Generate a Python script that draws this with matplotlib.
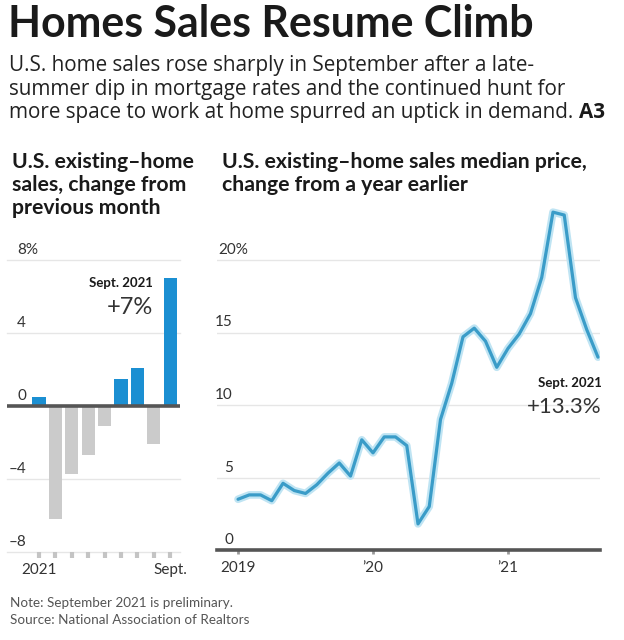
import matplotlib
matplotlib.use("Agg")
import matplotlib.pyplot as plt

# ---------------- data ----------------
bar_months = ["Jan", "Feb", "Mar", "Apr", "May", "Jun", "Jul", "Aug", "Sept."]
bar_values = [0.5, -6.2, -3.7, -2.7, -1.1, 1.5, 2.1, -2.1, 7.0]
bar_tick_labels = ["2021", "", "", "", "", "", "", "", "Sept."]
bar_yticks = [-8, -4, 0, 4, 8]

line_values = [3.5, 3.8, 3.8, 3.4, 4.6, 4.1, 3.9, 4.5, 5.3, 6.0, 5.1, 7.6,
               6.7, 7.8, 7.8, 7.2, 1.8, 3.0, 9.0, 11.5, 14.7, 15.3, 14.4, 12.6,
               13.9, 14.9, 16.3, 18.8, 23.3, 23.1, 17.4, 15.2, 13.3]
line_tick_pos = [0, 12, 24]
line_tick_labels = ["2019", "\u201920", "\u201921"]
line_yticks = [0, 5, 10, 15, 20]

title = "Homes Sales Resume Climb"
subtitle = ["U.S. home sales rose sharply in September after a late-",
            "summer dip in mortgage rates and the continued hunt for",
            "more space to work at home spurred an uptick in demand."]
left_title = ["U.S. existing\u2013home", "sales, change from", "previous month"]
right_title = ["U.S. existing\u2013home sales median price,",
               "change from a year earlier"]
notes = ["Note: September 2021 is preliminary.",
         "Source: National Association of Realtors"]

# ---------------- style ----------------
W, H = 624, 640
FONT = ["Lato", "DejaVu Sans"]
SUBFONT = ["Open Sans", "DejaVu Sans"]
plt.rcParams["font.family"] = FONT
DARK = "#1a1a1a"
TXT = "#333333"
GRID = "#e6e6e6"
BLUE = "#1b8fd2"
GRAY = "#cbcbcb"
LINE = "#3a9cc8"

fig = plt.figure(figsize=(W / 100, H / 100), dpi=100)
fig.patch.set_facecolor("white")
fig.canvas.draw()
renderer = fig.canvas.get_renderer()


def fx(x):
    return x / W


def fy(y):
    return 1 - y / H


def text_width(s, **kw):
    t = fig.text(0, 0, s, **kw)
    w = t.get_window_extent(renderer=renderer).width
    t.remove()
    return w


def fit_size(s, target, **kw):
    w = text_width(s, fontsize=20, **kw)
    return 20 * target / w


def ftext(x, y, s, **kw):
    fig.text(fx(x), fy(y), s, va="baseline", **kw)


# headline
ts = fit_size(title, 527, fontweight="bold", family=FONT)
ftext(8, 37, title, fontsize=ts, fontweight="bold", color=DARK)
ss = fit_size(subtitle[0], 526, family=SUBFONT)
for i, line in enumerate(subtitle):
    ftext(9, 71 + i * 23.5, line, fontsize=ss, color="#222222", family=SUBFONT)
aw = text_width(subtitle[2] + " ", fontsize=ss, family=SUBFONT)
ftext(9 + aw, 71 + 2 * 23.5, "A3", fontsize=ss, fontweight="bold",
      color=DARK, family=SUBFONT)

ls = fit_size(left_title[0], 176, fontweight="bold", family=FONT)
rs = fit_size(right_title[0], 378, fontweight="bold", family=FONT)
ps = (ls + rs) / 2
for i, line in enumerate(left_title):
    ftext(12, 168 + i * 23, line, fontsize=ps, fontweight="bold", color=DARK)
for i, line in enumerate(right_title):
    ftext(222, 168 + i * 23, line, fontsize=ps, fontweight="bold", color=DARK)

ns = fit_size(notes[1], 238, family=FONT)
for i, line in enumerate(notes):
    ftext(10, 607 + i * 16.5, line, fontsize=ns, color="#555555")

# ---------------- left bar chart ----------------
lx0, lx1, ly_top, ly_bot = 7, 180, 260, 552
axL = fig.add_axes([fx(lx0), fy(ly_bot), (lx1 - lx0) / W, (ly_bot - ly_top) / H])
xs = list(range(len(bar_values)))
cols = [BLUE if v >= 0 else GRAY for v in bar_values]
axL.bar(xs, bar_values, width=0.8, color=cols, zorder=2)
axL.set_xlim(-1.95, 8.6)
axL.set_ylim(-8, 8)
for v in bar_yticks:
    if v == 0:
        axL.axhline(0, color="#555555", lw=2.6, zorder=3)
    else:
        axL.axhline(v, color=GRID, lw=1, zorder=1, clip_on=False)
    lab = f"{v}".replace("-", "\u2013")
    if v == max(bar_yticks):
        axL.annotate(lab + "%", xy=(0, v), xycoords=axL.get_yaxis_transform(),
                     xytext=(10, 3), textcoords="offset pixels",
                     ha="left", va="bottom", fontsize=11, color=TXT)
    else:
        axL.annotate(lab, xy=(0, v), xycoords=axL.get_yaxis_transform(),
                     xytext=(19, 3), textcoords="offset pixels",
                     ha="right", va="bottom", fontsize=11, color=TXT)
axL.set_yticks([])
axL.set_xticks(xs)
axL.set_xticklabels(bar_tick_labels, fontsize=11, color=TXT)
axL.tick_params(axis="x", length=4, width=3, color="#c4c4c4", pad=4)
for s in axL.spines.values():
    s.set_visible(False)
axL.patch.set_alpha(0)
axL.annotate("Sept. 2021", xy=(xs[-1], bar_values[-1]), xytext=(-17, -9),
             textcoords="offset pixels", ha="right", va="baseline",
             fontsize=9.5, fontweight="bold", color=DARK)
axL.annotate("+7%", xy=(xs[-1], bar_values[-1]), xytext=(-17, -36),
             textcoords="offset pixels", ha="right", va="baseline",
             fontsize=17, color=TXT)

# ---------------- right line chart ----------------
rx0, rx1, ry_top, ry_bot = 217, 600, 200, 550
axR = fig.add_axes([fx(rx0), fy(ry_bot), (rx1 - rx0) / W, (ry_bot - ry_top) / H])
mx = list(range(len(line_values)))
axR.plot(mx, line_values, color="#bfe4f3", lw=5.5, solid_joinstyle="round",
         solid_capstyle="round", zorder=2)
axR.plot(mx, line_values, color=LINE, lw=2.3, solid_joinstyle="round",
         solid_capstyle="round", zorder=3)
axR.set_xlim(-1.87, 32.18)
axR.set_ylim(0, 350 / 14.5)
for v in line_yticks:
    if v == 0:
        axR.axhline(0, color="#555555", lw=2.6, zorder=4, clip_on=False)
    else:
        axR.axhline(v, color=GRID, lw=1, zorder=1)
    if v == max(line_yticks):
        axR.annotate(f"{v}%", xy=(0, v), xycoords=axR.get_yaxis_transform(),
                     xytext=(1, 3), textcoords="offset pixels",
                     ha="left", va="bottom", fontsize=11, color=TXT)
    else:
        axR.annotate(str(v), xy=(0, v), xycoords=axR.get_yaxis_transform(),
                     xytext=(16, 3), textcoords="offset pixels",
                     ha="right", va="bottom", fontsize=11, color=TXT)
axR.set_yticks([])
axR.set_xticks(line_tick_pos)
axR.set_xticklabels(line_tick_labels, fontsize=11, color=TXT)
axR.tick_params(axis="x", length=3, width=2, color="#999999", pad=5)
for s in axR.spines.values():
    s.set_visible(False)
axR.patch.set_alpha(0)
axR.annotate("Sept. 2021", xy=(mx[-1], line_values[-1]), xytext=(4, -30),
             textcoords="offset pixels", ha="right", va="baseline",
             fontsize=9.5, fontweight="bold", color=DARK)
axR.annotate("+13.3%", xy=(mx[-1], line_values[-1]), xytext=(4, -56),
             textcoords="offset pixels", ha="right", va="baseline",
             fontsize=16, color=TXT)

fig.savefig("out.png", dpi=100, facecolor="white")
